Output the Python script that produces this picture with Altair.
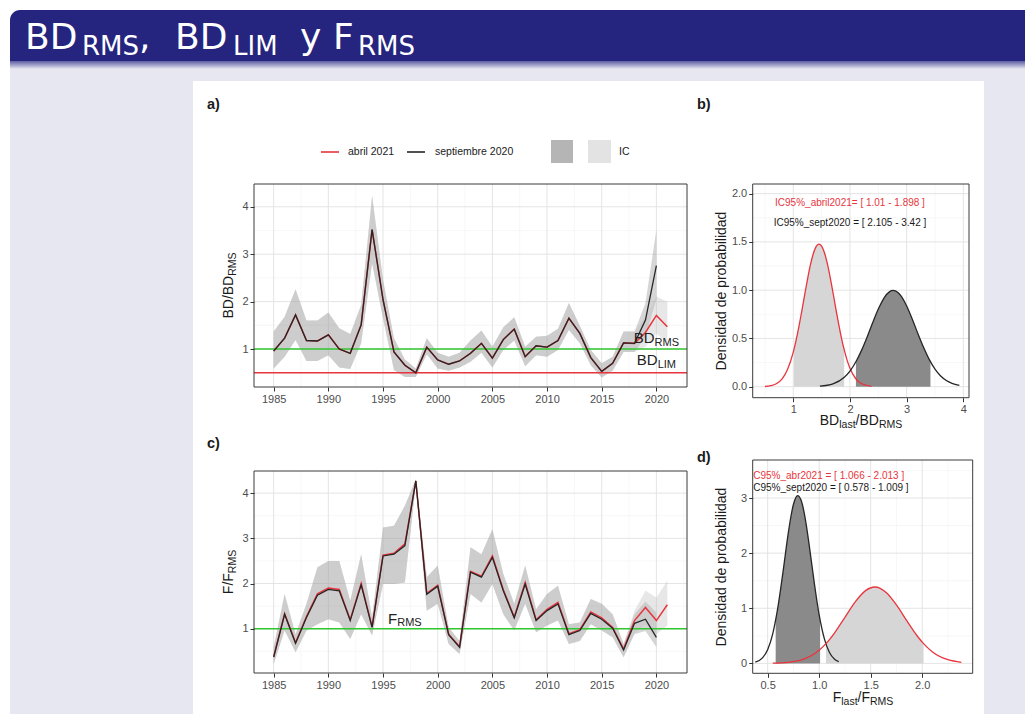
import altair as alt
import pandas as pd

# ---------------- data ----------------
years_sep = list(range(1985, 2021))
years_abr = list(range(1985, 2022))

# a) BD/BD_RMS
bd_sep = [0.96, 1.23, 1.72, 1.18, 1.17, 1.30, 1.00, 0.91, 1.51, 3.52, 2.04, 0.94, 0.66, 0.50, 1.04, 0.77, 0.68, 0.75,
          0.91, 1.12, 0.81, 1.20, 1.42, 0.84, 1.07, 1.04, 1.18, 1.65, 1.33, 0.82, 0.53, 0.70, 1.13, 1.12, 1.61, 2.76]
bd_sep_lo = [0.59, 0.84, 1.19, 0.75, 0.75, 0.87, 0.61, 0.58, 1.12, 2.81, 1.65, 0.56, 0.41, 0.41, 0.89, 0.59, 0.54, 0.61,
             0.73, 0.92, 0.61, 0.98, 1.18, 0.64, 0.87, 0.84, 0.98, 1.40, 1.12, 0.66, 0.40, 0.54, 0.94, 0.94, 1.26, 2.05]
bd_sep_hi = [1.37, 1.68, 2.26, 1.60, 1.60, 1.77, 1.44, 1.32, 1.93, 4.23, 2.46, 1.23, 0.78, 0.59, 1.23, 0.92, 0.84, 0.92,
             1.18, 1.39, 1.05, 1.46, 1.67, 1.05, 1.26, 1.28, 1.43, 1.97, 1.49, 0.98, 0.70, 0.84, 1.37, 1.37, 1.97, 3.52]
bd_abr = [0.96, 1.23, 1.72, 1.18, 1.17, 1.30, 1.00, 0.91, 1.51, 3.52, 2.04, 0.94, 0.66, 0.50, 1.04, 0.77, 0.68, 0.75,
          0.91, 1.12, 0.81, 1.20, 1.42, 0.84, 1.07, 1.04, 1.18, 1.65, 1.33, 0.82, 0.53, 0.70, 1.13, 1.12, 1.35, 1.71, 1.47]
bd_abr_lo = [0.59, 0.84, 1.19, 0.75, 0.75, 0.87, 0.61, 0.58, 1.12, 2.81, 1.65, 0.56, 0.41, 0.41, 0.89, 0.59, 0.54, 0.61,
             0.73, 0.92, 0.61, 0.98, 1.18, 0.64, 0.87, 0.84, 0.98, 1.40, 1.12, 0.66, 0.40, 0.54, 0.94, 0.94, 1.05, 1.33, 1.12]
bd_abr_hi = [1.37, 1.68, 2.26, 1.60, 1.60, 1.77, 1.44, 1.32, 1.93, 4.23, 2.46, 1.23, 0.78, 0.59, 1.23, 0.92, 0.84, 0.92,
             1.18, 1.39, 1.05, 1.46, 1.67, 1.05, 1.26, 1.28, 1.43, 1.97, 1.49, 0.98, 0.70, 0.84, 1.37, 1.37, 1.68, 2.11, 2.00]

# c) F/F_RMS
f_sep = [0.37, 1.32, 0.68, 1.25, 1.74, 1.87, 1.84, 1.18, 1.97, 1.03, 2.61, 2.65, 2.84, 4.27, 1.76, 1.94, 0.87, 0.59,
         2.25, 2.14, 2.58, 1.84, 1.24, 1.99, 1.18, 1.40, 1.55, 0.87, 0.96, 1.34, 1.21, 1.01, 0.53, 1.12, 1.21, 0.81]
f_sep_lo = [0.22, 0.96, 0.48, 0.96, 1.10, 1.21, 1.14, 0.77, 1.32, 0.85, 1.99, 1.99, 2.02, 4.20, 1.40, 1.55, 0.66, 0.44,
            1.77, 1.58, 1.99, 1.32, 0.96, 1.55, 0.92, 1.07, 1.18, 0.66, 0.73, 1.10, 0.96, 0.81, 0.37, 0.88, 0.95, 0.59]
f_sep_hi = [0.59, 1.77, 0.88, 1.55, 2.36, 2.50, 2.50, 1.62, 2.65, 1.25, 3.24, 3.28, 3.72, 4.31, 2.14, 2.40, 1.03, 0.73,
            2.80, 2.65, 3.20, 2.21, 1.55, 2.40, 1.43, 1.77, 1.95, 1.10, 1.14, 1.66, 1.55, 1.32, 0.66, 1.32, 1.60, 1.36]
f_abr = [0.38, 1.33, 0.69, 1.27, 1.77, 1.90, 1.87, 1.20, 2.00, 1.04, 2.63, 2.67, 2.88, 4.27, 1.78, 1.96, 0.88, 0.60,
         2.27, 2.16, 2.61, 1.86, 1.26, 2.02, 1.20, 1.43, 1.58, 0.89, 0.98, 1.37, 1.24, 1.03, 0.55, 1.18, 1.47, 1.18, 1.53]
f_abr_lo = [0.22, 0.96, 0.48, 0.96, 1.10, 1.21, 1.14, 0.77, 1.32, 0.85, 1.99, 1.99, 2.02, 4.20, 1.40, 1.55, 0.66, 0.44,
            1.77, 1.58, 1.99, 1.32, 0.96, 1.55, 0.92, 1.07, 1.18, 0.66, 0.73, 1.10, 0.96, 0.81, 0.37, 0.90, 1.10, 0.88, 1.07]
f_abr_hi = [0.59, 1.77, 0.88, 1.55, 2.36, 2.50, 2.50, 1.62, 2.65, 1.25, 3.24, 3.28, 3.72, 4.31, 2.14, 2.40, 1.03, 0.73,
            2.80, 2.65, 3.20, 2.21, 1.55, 2.40, 1.43, 1.77, 1.95, 1.10, 1.14, 1.66, 1.55, 1.32, 0.66, 1.40, 1.84, 1.69, 2.06]

# b) density of BD_last/BD_RMS
b_red_x = [0.5, 0.6, 0.7, 0.8, 0.9, 1.0, 1.1, 1.15, 1.2, 1.25, 1.3, 1.35, 1.4, 1.45, 1.5, 1.55, 1.6, 1.65, 1.7, 1.75,
           1.8, 1.85, 1.9, 1.95, 2.0, 2.1, 2.2, 2.38]
b_red_y = [0.002, 0.010, 0.030, 0.079, 0.181, 0.359, 0.626, 0.784, 0.949, 1.110, 1.256, 1.372, 1.449, 1.478, 1.457,
           1.388, 1.277, 1.135, 0.976, 0.810, 0.650, 0.504, 0.378, 0.273, 0.192, 0.085, 0.033, 0.004]
b_red_fill_x = [1.01, 1.1, 1.15, 1.2, 1.25, 1.3, 1.35, 1.4, 1.45, 1.5, 1.55, 1.6, 1.65, 1.7, 1.75, 1.8, 1.85, 1.898]
b_red_fill_y = [0.382, 0.626, 0.784, 0.949, 1.110, 1.256, 1.372, 1.449, 1.478, 1.457, 1.388, 1.277, 1.135, 0.976,
                0.810, 0.650, 0.504, 0.382]
b_blk_x = [1.47, 1.7, 1.9, 2.0, 2.1, 2.2, 2.3, 2.4, 2.5, 2.6, 2.7, 2.76, 2.8, 2.9, 3.0, 3.1, 3.2, 3.3, 3.4, 3.5, 3.6,
           3.7, 3.8, 3.93]
b_blk_y = [0.005, 0.029, 0.098, 0.162, 0.253, 0.371, 0.510, 0.662, 0.804, 0.918, 0.985, 0.997, 0.993, 0.940, 0.836,
           0.699, 0.548, 0.405, 0.280, 0.182, 0.111, 0.064, 0.035, 0.014]
b_blk_fill_x = [2.105, 2.2, 2.3, 2.4, 2.5, 2.6, 2.7, 2.76, 2.8, 2.9, 3.0, 3.1, 3.2, 3.3, 3.42]
b_blk_fill_y = [0.256, 0.371, 0.510, 0.662, 0.804, 0.918, 0.985, 0.997, 0.993, 0.940, 0.836, 0.699, 0.548, 0.405, 0.259]

# d) density of F_last/F_RMS
d_blk_x = [0.38, 0.45, 0.5, 0.55, 0.6, 0.65, 0.7, 0.725, 0.75, 0.775, 0.79, 0.825, 0.85, 0.875, 0.9, 0.95, 1.0,
           1.05, 1.1, 1.15, 1.19]
d_blk_y = [0.021, 0.099, 0.248, 0.540, 1.024, 1.669, 2.362, 2.656, 2.882, 3.015, 3.045, 2.959, 2.775, 2.510, 2.192,
           1.496, 0.878, 0.448, 0.197, 0.075, 0.031]
d_blk_fill_x = [0.578, 0.6, 0.65, 0.7, 0.725, 0.75, 0.775, 0.79, 0.825, 0.85, 0.875, 0.9, 0.95, 1.0, 1.009]
d_blk_fill_y = [0.787, 1.024, 1.669, 2.362, 2.656, 2.882, 3.015, 3.045, 2.959, 2.775, 2.510, 2.192, 1.496, 0.878, 0.787]
d_red_x = [0.55, 0.7, 0.85, 1.0, 1.066, 1.15, 1.25, 1.35, 1.45, 1.54, 1.65, 1.75, 1.85, 1.95, 2.013, 2.1, 2.25, 2.38]
d_red_y = [0.004, 0.020, 0.078, 0.239, 0.358, 0.555, 0.836, 1.116, 1.320, 1.386, 1.287, 1.061, 0.774, 0.501, 0.358,
           0.208, 0.066, 0.020]
d_red_fill_x = [1.066, 1.15, 1.25, 1.35, 1.45, 1.54, 1.65, 1.75, 1.85, 1.95, 2.013]
d_red_fill_y = [0.358, 0.555, 0.836, 1.116, 1.320, 1.386, 1.287, 1.061, 0.774, 0.501, 0.358]

# tick positions
yr_major = [1985, 1990, 1995, 2000, 2005, 2010, 2015, 2020]
yr_minor = [1987.5, 1992.5, 1997.5, 2002.5, 2007.5, 2012.5, 2017.5, 2022.5]
ac_y_major = [1, 2, 3, 4]
ac_y_minor = [0.5, 1.5, 2.5, 3.5]
b_x_major = [1, 2, 3, 4]
b_x_minor = [0.5, 1.5, 2.5, 3.5]
b_y_major = [0.0, 0.5, 1.0, 1.5, 2.0]
b_y_minor = [0.25, 0.75, 1.25, 1.75]
d_x_major = [0.5, 1.0, 1.5, 2.0]
d_x_minor = [0.75, 1.25, 1.75, 2.25]
d_y_major = [0, 1, 2, 3]
d_y_minor = [0.5, 1.5, 2.5, 3.5]

# ---------------- styling ----------------
W, H = 1017, 706
FONT = "Liberation Sans"
HFONT = "DejaVu Sans"
RED = "#e8353d"
BLK = "#262626"
GREEN = "#2fc82f"
INK = "#1a1a1a"
LAV = "#e7e7f1"
NAVY = "#25257f"
ONE = pd.DataFrame({"k": [0]})

AW = {'B': 0.667, 'D': 0.722, '/': 0.278, 'R': 0.722, 'M': 0.833, 'S': 0.667, 'l': 0.222, 'a': 0.556,
      's': 0.5, 't': 0.278, 'F': 0.611, 'L': 0.556, 'I': 0.278, ' ': 0.278}


def tw(s, size):
    return sum(AW.get(c, 0.556) for c in s) * size


def rich(pieces, x, y, align="center", angle=0, color=INK, font=FONT, baseline="middle"):
    total = sum(tw(t, s) for t, s, _ in pieces)
    cur = {"left": 0.0, "center": -total / 2, "right": -total}[align]
    out = []
    for t, s, dy in pieces:
        mk = dict(text=t, fontSize=s, font=font, color=color, align="left", baseline=baseline,
                  dx=cur, angle=angle)
        if dy:
            mk["dy"] = dy
        out.append(alt.Chart(ONE).mark_text(**mk).encode(x=x, y=y))
        cur += tw(t, s)
    return out


AXIS = dict(grid=False, domain=False, ticks=True, tickSize=4, tickWidth=1, tickColor="#333333",
            labelColor="#4d4d4d", labelFont=FONT, labelFontSize=11, labelPadding=2, title="",
            zindex=1, labelFlush=False, labelOverlap=False)


def make_panel(xdom, xr, ydom, yr, xmaj, xmin, ymaj, ymin, xfmt, yfmt):
    return dict(
        xdom=xdom, ydom=ydom, xmaj=xmaj, xmin=xmin, ymaj=ymaj, ymin=ymin,
        sx=alt.Scale(domain=xdom, range=xr, nice=False, zero=False),
        sy=alt.Scale(domain=ydom, range=yr, nice=False, zero=False),
        ax=alt.Axis(orient="bottom", offset=yr[0] - H, values=xmaj, format=xfmt, **AXIS),
        ay=alt.Axis(orient="left", offset=-xr[0], values=ymaj, format=yfmt, **AXIS),
    )


def X(p, f):
    return alt.X(f, type="quantitative", scale=p["sx"], axis=p["ax"])


def Y(p, f):
    return alt.Y(f, type="quantitative", scale=p["sy"], axis=p["ay"])


def XD(p, v):
    return alt.XDatum(v, type="quantitative", scale=p["sx"], axis=p["ax"])


def YD(p, v):
    return alt.YDatum(v, type="quantitative", scale=p["sy"], axis=p["ay"])


def grid(p):
    out = []
    for vals, col, wd, ch in [(p["xmin"], "#f1f1f1", 0.6, "x"), (p["ymin"], "#f1f1f1", 0.6, "y"),
                              (p["xmaj"], "#e4e4e4", 1.0, "x"), (p["ymaj"], "#e4e4e4", 1.0, "y")]:
        df = pd.DataFrame({"g": vals})
        if ch == "x":
            enc = dict(x=X(p, "g"), y=YD(p, p["ydom"][0]), y2=alt.Y2Datum(p["ydom"][1]))
        else:
            enc = dict(y=Y(p, "g"), x=XD(p, p["xdom"][0]), x2=alt.X2Datum(p["xdom"][1]))
        out.append(alt.Chart(df).mark_rule(color=col, strokeWidth=wd).encode(**enc))
    return out


def border(p):
    return alt.Chart(ONE).mark_rect(fill="white", fillOpacity=0, stroke="#3a3a3a", strokeWidth=1).encode(
        x=XD(p, p["xdom"][0]), x2=alt.X2Datum(p["xdom"][1]),
        y=YD(p, p["ydom"][0]), y2=alt.Y2Datum(p["ydom"][1]))


def hline(p, v, color):
    return alt.Chart(ONE).mark_rule(color=color, strokeWidth=1.4).encode(
        x=XD(p, p["xdom"][0]), x2=alt.X2Datum(p["xdom"][1]), y=YD(p, v))


# ---------------- panels ----------------
PA = make_panel([1983.2, 2022.8], [246, 679], [0.2, 4.48], [379, 176], yr_major, yr_minor,
                ac_y_major, ac_y_minor, "d", "d")
PC = make_panel([1983.2, 2022.8], [246, 679], [0.02, 4.49], [665, 463], yr_major, yr_minor,
                ac_y_major, ac_y_minor, "d", "d")
PB = make_panel([0.284, 4.1], [744.7, 961], [-0.114, 2.10], [389.7, 176], b_x_major, b_x_minor,
                b_y_major, b_y_minor, "d", ".1f")
PD = make_panel([0.355, 2.49], [744.7, 964.7], [-0.18, 3.69], [665.3, 452], d_x_major, d_x_minor,
                d_y_major, d_y_minor, ".1f", "d")


def series_panel(p, ys, ya, vs, los, his, va, loa, hia, hls, labels):
    dfs = pd.DataFrame({"year": ys, "v": vs, "lo": los, "hi": his})
    dfa = pd.DataFrame({"year": ya, "v": va, "lo": loa, "hi": hia})
    layers = grid(p) + [
        alt.Chart(dfs).mark_area(color="#7f7f7f", opacity=0.32).encode(x=X(p, "year"), y=Y(p, "lo"), y2="hi"),
        alt.Chart(dfa).mark_area(color="#bdbdbd", opacity=0.36).encode(x=X(p, "year"), y=Y(p, "lo"), y2="hi"),
    ]
    layers += [hline(p, v, c) for v, c in hls]
    layers += [
        alt.Chart(dfa).mark_line(color=RED, strokeWidth=1.5).encode(x=X(p, "year"), y=Y(p, "v")),
        alt.Chart(dfs).mark_line(color=BLK, strokeWidth=1.3).encode(x=X(p, "year"), y=Y(p, "v")),
    ]
    for pieces, xv, yv in labels:
        layers += rich(pieces, XD(p, xv), YD(p, yv), color="#222222")
    layers.append(border(p))
    return alt.layer(*layers)


def density_panel(p, curves, fills, notes):
    layers = grid(p)
    for xs, ys, col in fills:
        df = pd.DataFrame({"x": xs, "y": ys})
        layers.append(alt.Chart(df).mark_area(color=col, interpolate="monotone").encode(
            x=X(p, "x"), y=Y(p, "y"), y2=alt.Y2Datum(0)))
    for xs, ys, col in curves:
        df = pd.DataFrame({"x": xs, "y": ys})
        layers.append(alt.Chart(df).mark_line(color=col, strokeWidth=1.3, interpolate="monotone").encode(
            x=X(p, "x"), y=Y(p, "y")))
    for txt, xv, yv, col, al in notes:
        layers.append(alt.Chart(ONE).mark_text(text=txt, font=FONT, fontSize=10, color=col, align=al,
                                               baseline="middle").encode(x=XD(p, xv), y=YD(p, yv)))
    layers.append(border(p))
    return alt.layer(*layers)


panelA = series_panel(PA, years_sep, years_abr, bd_sep, bd_sep_lo, bd_sep_hi, bd_abr, bd_abr_lo, bd_abr_hi,
                      [(1.0, GREEN), (0.5, RED)],
                      [([("BD", 15, 0), ("RMS", 11, 4.5)], 2020, 1.23),
                       ([("BD", 15, 0), ("LIM", 11, 4.5)], 2020, 0.76)])
panelC = series_panel(PC, years_sep, years_abr, f_sep, f_sep_lo, f_sep_hi, f_abr, f_abr_lo, f_abr_hi,
                      [(1.0, GREEN)],
                      [([("F", 15, 0), ("RMS", 11, 4.5)], 1997, 1.22)])
panelB = density_panel(PB,
                       [(b_red_x, b_red_y, RED), (b_blk_x, b_blk_y, BLK)],
                       [(b_red_fill_x, b_red_fill_y, "#d6d6d6"), (b_blk_fill_x, b_blk_fill_y, "#8a8a8a")],
                       [("IC95%_abril2021= [ 1.01 - 1.898 ]", 2.0, 1.9, RED, "center"),
                        ("IC95%_sept2020 = [ 2.105 - 3.42 ]", 2.0, 1.7, INK, "center")])
panelD = density_panel(PD,
                       [(d_blk_x, d_blk_y, BLK), (d_red_x, d_red_y, RED)],
                       [(d_blk_fill_x, d_blk_fill_y, "#8a8a8a"), (d_red_fill_x, d_red_fill_y, "#d6d6d6")],
                       [("C95%_abr2021 = [ 1.066 - 2.013 ]", 0.36, 3.40, RED, "left"),
                        ("C95%_sept2020  = [ 0.578 - 1.009 ]", 0.36, 3.18, INK, "left")])


# ---------------- slide decoration ----------------
def prect(x1, x2, y1, y2, **mk):
    return alt.Chart(ONE).mark_rect(**mk).encode(
        x=alt.value(x1), x2=alt.value(x2), y=alt.value(y1), y2=alt.value(y2))


shadow = alt.LinearGradient(gradient="linear",
                            stops=[alt.GradientStop(color="#5c5ca4", offset=0),
                                   alt.GradientStop(color=LAV, offset=1)],
                            x1=0, x2=0, y1=0, y2=1)
bg = [
    prect(2, W, 50, H, color=LAV),
    prect(2, W, 53, 61, fill=shadow),
    prect(2, W + 20, 2, 53, color=NAVY, cornerRadiusTopLeft=10),
    prect(185, 976, 73, H, color="white"),
]

header = []
for t, s, xv, yv in [("BD", 36, 17, 41), ("RMS", 26, 74, 47), (",", 36, 131, 41), ("BD", 36, 167, 41),
                     ("LIM", 26, 225, 47), ("y", 36, 292, 41), ("F", 36, 325, 41), ("RMS", 26, 350, 47)]:
    header.append(alt.Chart(ONE).mark_text(text=t, fontSize=s, font=HFONT, color="white", align="left",
                                           baseline="alphabetic").encode(x=alt.value(xv), y=alt.value(yv)))

deco = []
for t, xv, yv in [("a)", 199, 101), ("b)", 689, 101), ("c)", 199, 440), ("d)", 689, 454)]:
    deco.append(alt.Chart(ONE).mark_text(text=t, fontSize=14.5, font=FONT, fontWeight="bold", color=INK,
                                         align="left", baseline="alphabetic").encode(
        x=alt.value(xv), y=alt.value(yv)))

# legend of panel a
deco += [
    alt.Chart(ONE).mark_rule(color=RED, strokeWidth=1.6).encode(x=alt.value(313), x2=alt.value(331),
                                                                 y=alt.value(144)),
    alt.Chart(ONE).mark_rule(color=BLK, strokeWidth=1.6).encode(x=alt.value(399), x2=alt.value(417),
                                                                 y=alt.value(144)),
    prect(543, 565, 132, 155, color="#b5b5b5"),
    prect(580, 603, 132, 155, color="#e3e3e3"),
]
for t, xv in [("abril 2021", 340), ("septiembre 2020", 427), ("IC", 611)]:
    deco.append(alt.Chart(ONE).mark_text(text=t, fontSize=10.5, font=FONT, color=INK, align="left",
                                         baseline="middle").encode(x=alt.value(xv), y=alt.value(144)))

# axis titles
deco += rich([("BD/BD", 14, 0), ("RMS", 10.5, 4)], alt.value(221), alt.value(277.5), angle=270)
deco += rich([("F/F", 14, 0), ("RMS", 10.5, 4)], alt.value(221), alt.value(564), angle=270)
for yv in (283, 559):
    deco.append(alt.Chart(ONE).mark_text(text="Densidad de probabilidad", fontSize=14, font=FONT, color=INK,
                                         align="center", baseline="middle", angle=270).encode(
        x=alt.value(714), y=alt.value(yv)))
deco += rich([("BD", 14, 0), ("last", 10.5, 4), ("/BD", 14, 0), ("RMS", 10.5, 4)], alt.value(853), alt.value(413))
deco += rich([("F", 14, 0), ("last", 10.5, 4), ("/F", 14, 0), ("RMS", 10.5, 4)], alt.value(855), alt.value(690))

chart = alt.layer(
    *bg, *header, panelA, panelB, panelC, panelD, *deco
).resolve_scale(x="independent", y="independent").properties(
    width=W, height=H, padding=0, autosize="none", background="white"
).configure_view(stroke="transparent")

chart.save("out.html", embed_options={"renderer": "svg", "actions": False})
